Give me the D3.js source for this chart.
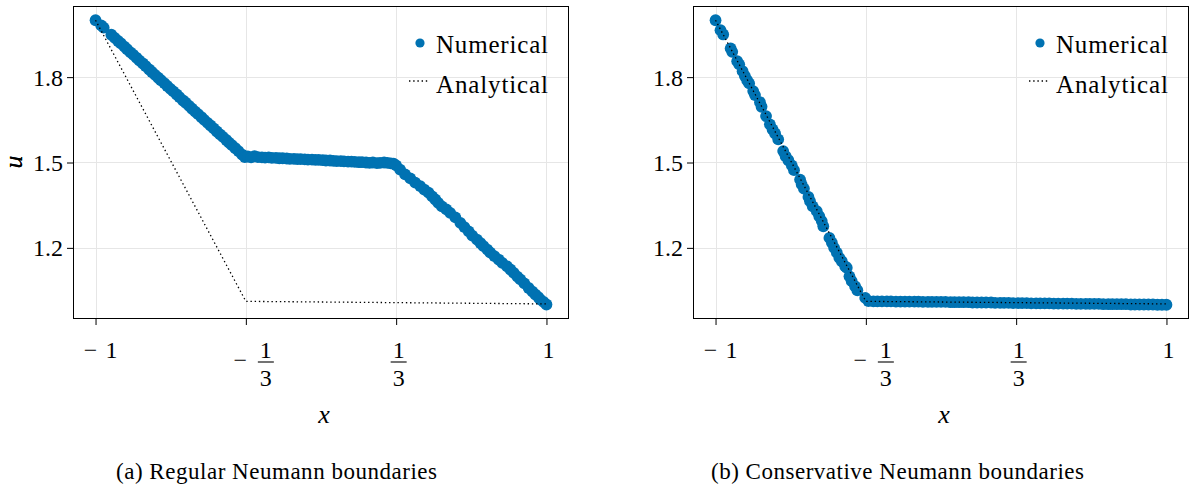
<!DOCTYPE html>
<html>
<head>
<meta charset="utf-8">
<script src="https://cdn.jsdelivr.net/npm/d3@7"></script>
<style>
  body { margin: 0; background: #fff; }
</style>
</head>
<body>
<svg id="chart" width="1194" height="490"></svg>
<script>
// --- data: [x, u] ---
const numericalRegular = [
  [-1.000, 2.000], [-0.975, 1.982], [-0.964, 1.974], [-0.930, 1.949], [-0.915, 1.938],
  [-0.900, 1.927], [-0.888, 1.919], [-0.872, 1.907], [-0.860, 1.898], [-0.845, 1.887],
  [-0.832, 1.878], [-0.818, 1.868], [-0.805, 1.858], [-0.790, 1.848], [-0.778, 1.839],
  [-0.762, 1.827], [-0.750, 1.818], [-0.736, 1.808], [-0.722, 1.798], [-0.710, 1.789],
  [-0.695, 1.779], [-0.682, 1.769], [-0.668, 1.759], [-0.655, 1.750], [-0.640, 1.739],
  [-0.628, 1.730], [-0.612, 1.718], [-0.600, 1.710], [-0.585, 1.699], [-0.572, 1.689],
  [-0.558, 1.679], [-0.545, 1.670], [-0.530, 1.659], [-0.518, 1.650], [-0.503, 1.639],
  [-0.490, 1.630], [-0.476, 1.620], [-0.462, 1.609], [-0.448, 1.599], [-0.435, 1.590],
  [-0.420, 1.579], [-0.408, 1.570], [-0.395, 1.561], [-0.380, 1.550], [-0.366, 1.540],
  [-0.350, 1.528], [-0.338, 1.519],
  [-0.325, 1.521], [-0.310, 1.518], [-0.295, 1.522], [-0.280, 1.519], [-0.262, 1.518],
  [-0.248, 1.517], [-0.232, 1.518], [-0.218, 1.516], [-0.200, 1.516], [-0.185, 1.515],
  [-0.170, 1.515], [-0.152, 1.514], [-0.138, 1.513], [-0.120, 1.513], [-0.105, 1.512],
  [-0.090, 1.512], [-0.072, 1.511], [-0.058, 1.510], [-0.040, 1.510], [-0.025, 1.509],
  [-0.010, 1.509], [0.008, 1.508], [0.022, 1.507], [0.040, 1.507], [0.055, 1.506],
  [0.070, 1.505], [0.088, 1.505], [0.102, 1.504], [0.120, 1.503], [0.135, 1.503],
  [0.150, 1.502], [0.168, 1.501], [0.182, 1.501], [0.200, 1.500], [0.215, 1.499],
  [0.230, 1.500], [0.248, 1.498], [0.262, 1.499], [0.280, 1.500], [0.295, 1.499],
  [0.310, 1.497], [0.322, 1.496],
  [0.333, 1.490], [0.351, 1.475], [0.373, 1.458], [0.396, 1.444], [0.418, 1.429],
  [0.440, 1.417], [0.458, 1.405], [0.477, 1.394], [0.493, 1.381], [0.507, 1.370],
  [0.520, 1.358], [0.536, 1.346], [0.556, 1.335], [0.573, 1.323], [0.596, 1.307],
  [0.618, 1.288], [0.636, 1.273], [0.655, 1.258], [0.671, 1.243], [0.692, 1.229],
  [0.707, 1.217], [0.721, 1.206], [0.738, 1.194], [0.751, 1.183], [0.769, 1.171],
  [0.788, 1.159], [0.804, 1.147], [0.825, 1.135], [0.840, 1.124], [0.855, 1.112],
  [0.871, 1.099], [0.884, 1.089], [0.902, 1.075], [0.921, 1.059], [0.938, 1.046],
  [0.951, 1.036], [0.964, 1.027], [0.973, 1.018], [0.987, 1.010], [1.000, 1.001]
];

const numericalConservative = [
  [-1.000, 2.000], [-0.978, 1.965], [-0.966, 1.950], [-0.933, 1.901], [-0.926, 1.889],
  [-0.904, 1.856], [-0.895, 1.845], [-0.880, 1.821], [-0.870, 1.804], [-0.860, 1.789],
  [-0.851, 1.778], [-0.833, 1.751], [-0.825, 1.737], [-0.803, 1.712], [-0.796, 1.696],
  [-0.776, 1.663], [-0.759, 1.634], [-0.747, 1.616], [-0.736, 1.602], [-0.722, 1.581],
  [-0.700, 1.540], [-0.689, 1.522], [-0.677, 1.508], [-0.662, 1.490], [-0.652, 1.473],
  [-0.625, 1.440], [-0.618, 1.423], [-0.608, 1.408], [-0.588, 1.379], [-0.581, 1.364],
  [-0.569, 1.346], [-0.551, 1.329], [-0.540, 1.311], [-0.529, 1.294], [-0.522, 1.276],
  [-0.495, 1.235], [-0.484, 1.218], [-0.474, 1.200], [-0.462, 1.183], [-0.451, 1.165],
  [-0.440, 1.153], [-0.425, 1.135], [-0.418, 1.130], [-0.406, 1.100], [-0.396, 1.083],
  [-0.381, 1.065], [-0.371, 1.051], [-0.336, 1.024],
  [-0.322, 1.013], [-0.300, 1.012], [-0.282, 1.012], [-0.262, 1.012], [-0.240, 1.012],
  [-0.222, 1.012], [-0.200, 1.011], [-0.180, 1.011], [-0.160, 1.011], [-0.140, 1.011],
  [-0.118, 1.011], [-0.100, 1.011], [-0.080, 1.010], [-0.058, 1.010], [-0.040, 1.010],
  [-0.020, 1.010], [0.000, 1.010], [0.020, 1.010], [0.042, 1.009], [0.060, 1.009],
  [0.080, 1.009], [0.100, 1.009], [0.122, 1.009], [0.140, 1.008], [0.160, 1.008],
  [0.180, 1.008], [0.200, 1.008], [0.222, 1.008], [0.240, 1.007], [0.262, 1.007],
  [0.280, 1.007], [0.300, 1.007], [0.320, 1.006], [0.342, 1.006], [0.360, 1.006],
  [0.380, 1.006], [0.400, 1.005], [0.422, 1.005], [0.440, 1.005], [0.460, 1.005],
  [0.480, 1.005], [0.500, 1.004], [0.520, 1.004], [0.542, 1.004], [0.560, 1.004],
  [0.580, 1.004], [0.600, 1.003], [0.620, 1.003], [0.642, 1.003], [0.660, 1.003],
  [0.680, 1.003], [0.700, 1.003], [0.720, 1.002], [0.742, 1.002], [0.760, 1.002],
  [0.780, 1.002], [0.800, 1.002], [0.820, 1.002], [0.842, 1.001], [0.860, 1.001],
  [0.880, 1.001], [0.900, 1.001], [0.920, 1.001], [0.940, 1.001], [0.960, 1.000],
  [0.980, 1.000], [1.000, 1.000]
];

const analytical = [[-1, 2.0], [-1 / 3, 1.012], [1, 1.003]];

const xTicks = [-1, -1 / 3, 1 / 3, 1];
// [sign, numerator, denominator]
const xTickLabels = [["−", "1", null], ["−", "1", "3"], ["", "1", "3"], ["", "1", null]];
const yTicks = [1.2, 1.5, 1.8];
const yTickLabels = ["1.2", "1.5", "1.8"];
const legendLabels = ["Numerical", "Analytical"];
const captions = ["(a) Regular Neumann boundaries", "(b) Conservative Neumann boundaries"];

// --- layout ---
const svg = d3.select("#chart");
const serif = "'Liberation Serif', serif";
const blue = "#0072b2";
const panelW = 496, panelH = 313, plotTop = 6;
const panels = [
  { left: 73, data: numericalRegular, caption: captions[0], capX: 116, capW: 321 },
  { left: 693, data: numericalConservative, caption: captions[1], capX: 711, capW: 373 }
];

const x = d3.scaleLinear().domain([-1.1, 1.1]).range([0, panelW]);
const y = d3.scaleLinear().domain([0.95, 2.05]).range([panelH, 0]);

function label(sel, px, py, size, str) {
  return sel.append("text").attr("x", px).attr("y", py)
    .style("font-family", serif).style("font-size", size + "px").attr("fill", "#000").text(str);
}

panels.forEach(p => {
  const g = svg.append("g").attr("transform", `translate(${p.left},${plotTop})`);

  // grid
  g.append("g").selectAll("line").data(xTicks).join("line")
    .attr("x1", d => Math.round(x(d)) + 0.5).attr("x2", d => Math.round(x(d)) + 0.5)
    .attr("y1", 0).attr("y2", panelH)
    .attr("stroke", "#e6e6e6").attr("stroke-width", 1);
  g.append("g").selectAll("line").data(yTicks).join("line")
    .attr("y1", d => Math.round(y(d)) + 0.5).attr("y2", d => Math.round(y(d)) + 0.5)
    .attr("x1", 0).attr("x2", panelW)
    .attr("stroke", "#e6e6e6").attr("stroke-width", 1);

  // numerical scatter
  g.append("g").selectAll("circle").data(p.data).join("circle")
    .attr("cx", d => x(d[0])).attr("cy", d => y(d[1]))
    .attr("r", 5.9).attr("fill", blue);

  // analytical dotted line
  g.append("path").datum(analytical)
    .attr("d", d3.line().x(d => x(d[0])).y(d => y(d[1])))
    .attr("fill", "none").attr("stroke", "#000")
    .attr("stroke-width", 1.3).attr("stroke-dasharray", "1.4 2.8");

  // frame
  g.append("rect").attr("x", 0.5).attr("y", 0.5)
    .attr("width", panelW - 1).attr("height", panelH - 1)
    .attr("fill", "none").attr("stroke", "#000").attr("stroke-width", 1);

  // y axis
  const yAxis = g.append("g").call(d3.axisLeft(y).tickValues(yTicks).tickSize(6).tickFormat((d, i) => yTickLabels[i]));
  yAxis.select(".domain").remove();
  yAxis.selectAll("text").style("font-family", serif).style("font-size", "24px")
    .attr("fill", "#000").attr("x", -10).attr("dy", "0.33em");

  // x axis ticks
  const xAxis = g.append("g").attr("transform", `translate(0,${panelH})`)
    .call(d3.axisBottom(x).tickValues(xTicks).tickSize(6).tickFormat(""));
  xAxis.select(".domain").remove();

  // x tick labels (math style)
  xTicks.forEach((t, i) => {
    const [sign, num, den] = xTickLabels[i];
    const tx = x(t);
    const lg = g.append("g");
    if (den === null) {
      if (sign) {
        label(lg, tx - 5, 357.5 - plotTop, 24, sign).attr("text-anchor", "middle");
        label(lg, tx + 16, 357.5 - plotTop, 24, num).attr("text-anchor", "middle");
      } else {
        label(lg, tx + 2, 357.5 - plotTop, 24, num).attr("text-anchor", "middle");
      }
    } else {
      const c = sign ? tx + 20 : tx + 2.5;
      if (sign) label(lg, tx - 5.5, 368 - plotTop, 24, sign).attr("text-anchor", "middle");
      label(lg, c, 357.5 - plotTop, 24, num).attr("text-anchor", "middle");
      lg.append("line").attr("x1", c - 8).attr("x2", c + 8)
        .attr("y1", 362 - plotTop).attr("y2", 362 - plotTop)
        .attr("stroke", "#000").attr("stroke-width", 1.1);
      label(lg, c, 386 - plotTop, 24, den).attr("text-anchor", "middle");
    }
  });

  // axis labels
  label(g, panelW / 2 + 3, 423 - plotTop, 26, "x")
    .attr("text-anchor", "middle").style("font-style", "italic");
  label(g, 0, 0, 26, "u")
    .attr("transform", `translate(${-p.left + 22},${162 - plotTop}) rotate(-90)`)
    .attr("text-anchor", "middle").style("font-style", "italic");

  // legend
  const lx = 347;
  g.append("circle").attr("cx", lx).attr("cy", 43 - plotTop).attr("r", 4.6).attr("fill", blue);
  label(g, lx + 16, 53 - plotTop, 25, legendLabels[0])
    .attr("textLength", 112).attr("lengthAdjust", "spacing");
  g.append("line").attr("x1", lx - 11).attr("x2", lx + 10).attr("y1", 81 - plotTop).attr("y2", 81 - plotTop)
    .attr("stroke", "#000").attr("stroke-width", 1.3).attr("stroke-dasharray", "1.4 2.8");
  label(g, lx + 16, 92.5 - plotTop, 25, legendLabels[1])
    .attr("textLength", 112).attr("lengthAdjust", "spacing");

  // caption
  label(svg, p.capX, 479, 23, p.caption)
    .attr("textLength", p.capW).attr("lengthAdjust", "spacing");
});
</script>
</body>
</html>
